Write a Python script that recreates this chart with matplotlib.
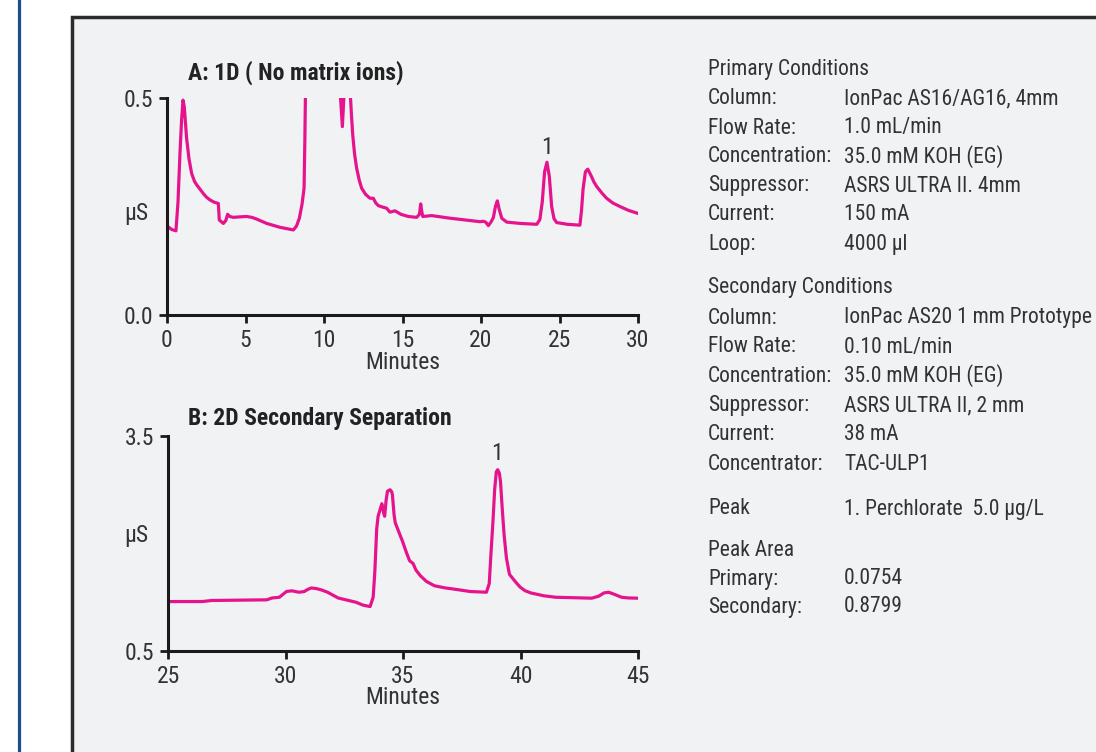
import matplotlib.pyplot as plt
from matplotlib.patches import Rectangle
from matplotlib.lines import Line2D

# Panel A: 1D chromatogram (minutes, uS); values above 0.5 are off scale
t_a = [0.0, 0.3, 0.57, 0.7, 0.83, 0.93, 1.02, 1.1, 1.25, 1.4, 1.57, 1.75, 1.89, 2.1, 2.31,
       2.5, 2.74, 3.0, 3.27, 3.33, 3.59, 3.75, 3.86, 4.0, 4.22, 4.6, 5.07, 5.4, 5.71, 6.35,
       7.2, 8.05, 8.25, 8.43, 8.6, 8.73, 8.78, 8.85, 10.95, 11.02, 11.17, 11.29, 11.6,
       11.66, 11.75, 11.83, 11.95, 12.08, 12.25, 12.4, 12.65, 12.93, 13.14, 13.3, 13.46,
       13.7, 13.99, 14.2, 14.52, 14.9, 15.37, 15.9, 16.08, 16.16, 16.22, 16.29, 16.86,
       18.03, 19.94, 20.15, 20.3, 20.47, 20.65, 20.79, 20.92, 21.04, 21.15, 21.32, 21.64,
       22.5, 23.55, 23.75, 23.9, 24.05, 24.2, 24.35, 24.5, 24.65, 24.82, 25.5, 26.3, 26.4,
       26.5, 26.65, 26.8, 27.0, 27.2, 27.37, 27.7, 28.0, 28.4, 28.85, 29.4, 30.0]
y_a = [0.205, 0.197, 0.194, 0.26, 0.376, 0.45, 0.495, 0.48, 0.407, 0.36, 0.326, 0.308,
       0.300, 0.290, 0.280, 0.272, 0.265, 0.260, 0.257, 0.219, 0.211, 0.218, 0.232, 0.227,
       0.225, 0.226, 0.227, 0.225, 0.221, 0.211, 0.202, 0.196, 0.205, 0.223, 0.255, 0.292,
       0.40, 0.60, 0.60, 0.52, 0.434, 0.52, 0.60, 0.52, 0.46, 0.415, 0.37, 0.338, 0.31,
       0.292, 0.278, 0.269, 0.269, 0.258, 0.252, 0.249, 0.246, 0.237, 0.240, 0.232, 0.227,
       0.225, 0.232, 0.256, 0.240, 0.227, 0.229, 0.223, 0.215, 0.216, 0.214, 0.206, 0.215,
       0.225, 0.250, 0.263, 0.245, 0.223, 0.214, 0.211, 0.209, 0.220, 0.260, 0.330, 0.352,
       0.320, 0.250, 0.222, 0.213, 0.209, 0.207, 0.240, 0.290, 0.330, 0.336, 0.322, 0.306,
       0.296, 0.281, 0.269, 0.258, 0.250, 0.241, 0.234]

# Panel B: 2D chromatogram
t_b = [25.0, 26.47, 26.85, 29.2, 29.43, 29.74, 30.04, 30.27, 30.57, 30.8, 30.95, 31.1,
       31.33, 31.55, 31.79, 32.24, 33.0, 33.3, 33.6, 33.73, 33.8, 33.84, 33.88, 33.94,
       34.05, 34.1, 34.18, 34.22, 34.28, 34.34, 34.45, 34.52, 34.55, 34.62, 34.67, 34.8,
       34.98, 35.15, 35.28, 35.43, 35.55, 35.74, 36.0, 36.34, 36.8, 37.25, 37.86, 38.55,
       38.67, 38.75, 38.82, 38.9, 38.97, 39.03, 39.1, 39.15, 39.22, 39.3, 39.4, 39.53,
       39.7, 39.85, 39.99, 40.2, 40.44, 41.0, 41.5, 43.03, 43.33, 43.55, 43.75, 44.0,
       44.3, 44.6, 45.0]
y_b = [1.19, 1.19, 1.205, 1.214, 1.24, 1.25, 1.33, 1.34, 1.32, 1.33, 1.36, 1.38, 1.37,
       1.35, 1.32, 1.24, 1.18, 1.14, 1.12, 1.25, 1.60, 1.896, 2.20, 2.38, 2.50, 2.555,
       2.42, 2.38, 2.60, 2.73, 2.75, 2.72, 2.68, 2.40, 2.29, 2.18, 2.03, 1.87, 1.76, 1.72,
       1.63, 1.55, 1.47, 1.41, 1.38, 1.36, 1.33, 1.32, 1.44, 1.90, 2.26, 2.75, 3.00, 3.03,
       2.98, 2.86, 2.50, 2.13, 1.80, 1.57, 1.50, 1.44, 1.39, 1.34, 1.31, 1.27, 1.25, 1.237,
       1.265, 1.31, 1.32, 1.29, 1.25, 1.24, 1.237]

labels_left = ["Primary Conditions", "Column:", "Flow Rate:", "Concentration:", "Suppressor:",
               "Current:", "Loop:", "Secondary Conditions", "Column:", "Flow Rate:",
               "Concentration:", "Suppressor:", "Current:", "Concentrator:", "Peak",
               "Peak Area", "Primary:", "Secondary:"]
labels_right = ["", "IonPac AS16/AG16, 4mm", "1.0 mL/min", "35.0 mM KOH (EG)",
                "ASRS ULTRA II. 4mm", "150 mA", "4000 µl", "", "IonPac AS20 1 mm Prototype",
                "0.10 mL/min", "35.0 mM KOH (EG)", "ASRS ULTRA II, 2 mm", "38 mA", "TAC-ULP1",
                "1. Perchlorate  5.0 µg/L", "", "0.0754", "0.8799"]
rows_px = [70, 99, 128, 157, 186, 215, 244, 288, 318, 347, 376, 406, 435, 464, 509, 550, 579, 607]

plt.rcParams['font.family'] = ['Roboto Condensed', 'DejaVu Sans']
pink = '#e6148c'
W, H = 1096, 752

fig = plt.figure(figsize=(10.96, 7.52), dpi=100)
fig.patch.set_facecolor('white')

# background panel and blue rule
fig.patches.append(Rectangle((72 / W, -0.05), 1.0, 1 - 17 / H + 0.05, transform=fig.transFigure,
                             facecolor='#f1f2f4', edgecolor='#2b2b2b', linewidth=2.5, zorder=-5))
fig.lines.append(Line2D([19 / W, 19 / W], [0, 1], transform=fig.transFigure,
                        color='#1d4d8c', linewidth=2.3, zorder=-5))


def style_axes(ax):
    ax.set_facecolor('none')
    for s in ['top', 'right']:
        ax.spines[s].set_visible(False)
    for s in ['left', 'bottom']:
        ax.spines[s].set_linewidth(2.2)
        ax.spines[s].set_color('#1a1a1a')
    ax.tick_params(direction='out', length=6, width=2, color='#1a1a1a',
                   labelsize=17, labelcolor='#333333', pad=4)
    ax.set_xlabel('Minutes', fontsize=17, color='#333333', labelpad=-1)


ax1 = fig.add_axes([167 / W, 1 - 315 / H, 471 / W, 217 / H])
ax1.plot(t_a, y_a, color=pink, linewidth=2.3, solid_joinstyle='round')
ax1.set_xlim(0, 30)
ax1.set_ylim(0, 0.5)
ax1.set_xticks([0, 5, 10, 15, 20, 25, 30])
ax1.set_yticks([0.0, 0.5])
ax1.set_yticklabels(['0.0', '0.5'])
style_axes(ax1)
ax1.text(-0.066, 0.47, 'µS', transform=ax1.transAxes, fontsize=17, color='#333333',
         ha='center', va='center')
ax1.text(24.2, 0.385, '1', fontsize=17, color='#333333', ha='center', va='center')
fig.text(188 / W, 1 - 73 / H, 'A: 1D ( No matrix ions)', fontsize=17, fontweight='bold',
         color='#222222', va='center')

ax2 = fig.add_axes([168 / W, 1 - 651 / H, 470 / W, 215 / H])
ax2.plot(t_b, y_b, color=pink, linewidth=2.3, solid_joinstyle='round')
ax2.set_xlim(25, 45)
ax2.set_ylim(0.5, 3.5)
ax2.set_xticks([25, 30, 35, 40, 45])
ax2.set_yticks([0.5, 3.5])
style_axes(ax2)
ax2.text(-0.068, 0.535, 'µS', transform=ax2.transAxes, fontsize=17, color='#333333',
         ha='center', va='center')
ax2.text(39.0, 3.26, '1', fontsize=17, color='#333333', ha='center', va='center')
fig.text(188 / W, 1 - 418 / H, 'B: 2D Secondary Separation', fontsize=17, fontweight='bold',
         color='#222222', va='center')

for lt, rt, yp in zip(labels_left, labels_right, rows_px):
    fig.text(708 / W, 1 - yp / H, lt, fontsize=15.5, color='#333333', va='center')
    if rt:
        fig.text(844 / W, 1 - yp / H, rt, fontsize=15.5, color='#333333', va='center')

fig.savefig('out.png', dpi=100, facecolor=fig.get_facecolor())
